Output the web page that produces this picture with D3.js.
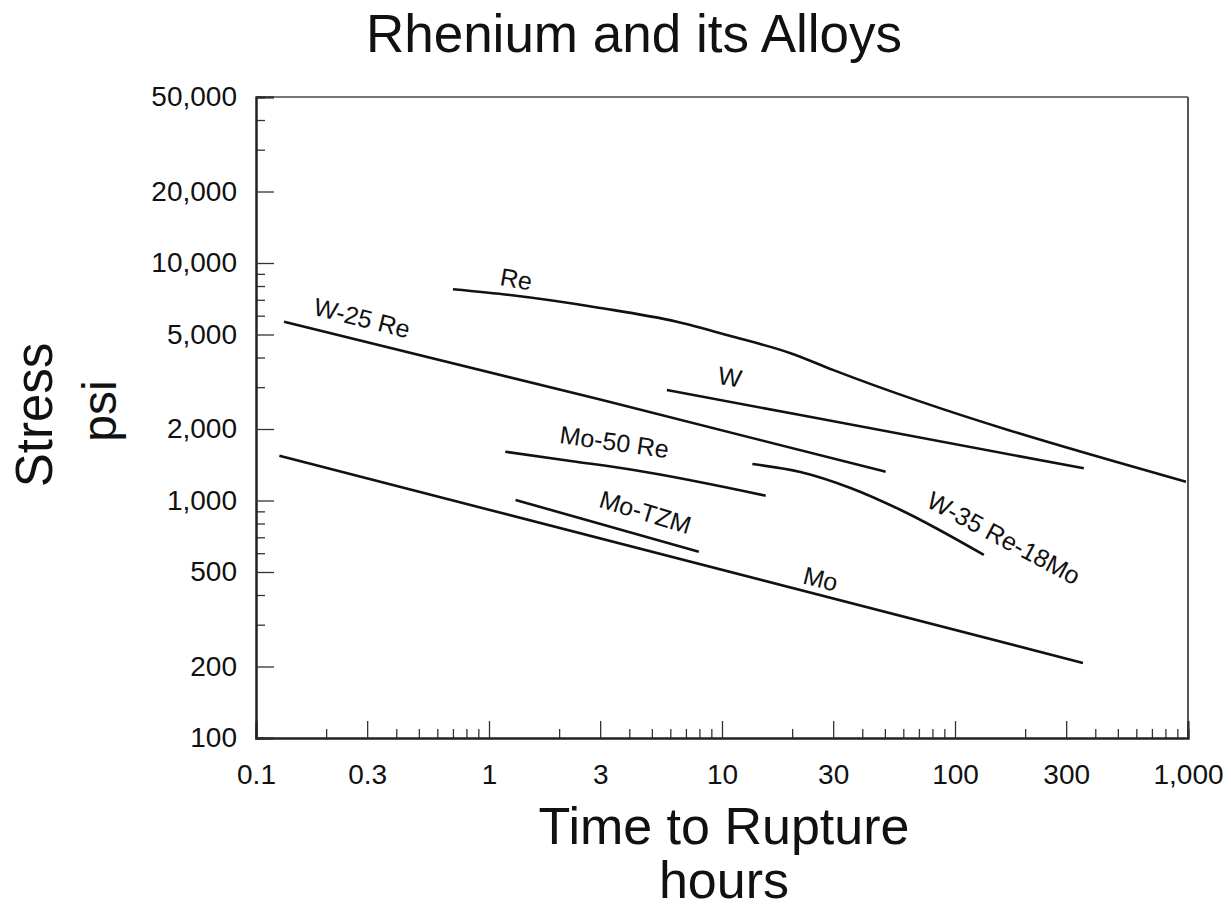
<!DOCTYPE html>
<html>
<head>
<meta charset="utf-8">
<script src="https://cdn.jsdelivr.net/npm/d3@7"></script>
<style>
  body { margin: 0; background: #fff; }
  text { font-family: "Liberation Sans", Arial, sans-serif; fill: #111; }
</style>
</head>
<body>
<svg width="1231" height="916"></svg>
<script>
// stress-rupture curves, [hours, psi]
var reData      = [[0.70, 7750], [1.23, 7330], [3.0, 6470], [6.4, 5660], [11.2, 4890], [19.7, 4170], [30.1, 3540], [980, 1200]];
var w25ReData   = [[0.132, 5660], [3.0, 2660], [50.4, 1322]];
var wData       = [[5.8, 2920], [21.7, 2290], [357, 1366]];
var mo50ReData  = [[1.175, 1605], [2.24, 1467], [4.18, 1344], [15.4, 1048]];
var w35ReData   = [[13.5, 1424], [21.7, 1318], [35.6, 1129], [58.5, 912], [133, 590]];
var moTzmData   = [[1.3, 1005], [7.95, 609]];
var moData      = [[0.126, 1544], [354, 207]];

var seriesNames = ["Re", "W-25 Re", "W", "Mo-50 Re", "W-35 Re-18Mo", "Mo-TZM", "Mo"];
var seriesData  = [reData, w25ReData, wData, mo50ReData, w35ReData, moTzmData, moData];

var xMajor = [0.1, 0.3, 1, 3, 10, 30, 100, 300, 1000];
var yMajor = [100, 200, 500, 1000, 2000, 5000, 10000, 20000, 50000];

var svg = d3.select("svg"),
    plotL = 256, plotR = 1188, plotT = 97, plotB = 738;

var x = d3.scaleLog().domain([0.1, 1000]).range([plotL, plotR]),
    y = d3.scaleLog().domain([100, 50000]).range([plotB, plotT]);

// minor ticks: every integer multiple inside each decade
var xMinor = x.ticks().filter(function (v) { return xMajor.indexOf(+v.toPrecision(3)) < 0; });
var yMinor = y.ticks().filter(function (v) { return yMajor.indexOf(+v.toPrecision(3)) < 0; });

var fmtX = function (d) { return d >= 1000 ? d3.format(",")(d) : String(d); };

// title and axis titles
svg.append("text").attr("x", 634).attr("y", 52).attr("text-anchor", "middle")
    .style("font-size", "53px").text("Rhenium and its Alloys");
svg.append("text").attr("x", 724).attr("y", 844).attr("text-anchor", "middle")
    .style("font-size", "52px").text("Time to Rupture");
svg.append("text").attr("x", 724).attr("y", 898).attr("text-anchor", "middle")
    .style("font-size", "52px").text("hours");
svg.append("text").attr("transform", "translate(52,415) rotate(-90)").attr("text-anchor", "middle")
    .style("font-size", "51px").text("Stress");
svg.append("text").attr("transform", "translate(116,411) rotate(-90)").attr("text-anchor", "middle")
    .style("font-size", "48px").text("psi");

// frame
svg.append("line").attr("x1", plotL).attr("x2", plotR).attr("y1", plotT).attr("y2", plotT)
    .attr("stroke", "#777").attr("stroke-width", 2);
svg.append("line").attr("x1", plotR).attr("x2", plotR).attr("y1", plotT).attr("y2", plotB)
    .attr("stroke", "#555").attr("stroke-width", 2);

// axes: ticks point inward, minor and major in separate groups
svg.append("g").attr("transform", "translate(0," + plotB + ")")
    .call(d3.axisBottom(x).tickValues(xMinor).tickSize(-9).tickFormat(""));
svg.append("g").attr("transform", "translate(0," + plotB + ")")
    .call(d3.axisBottom(x).tickValues(xMajor).tickSize(-17).tickPadding(26).tickFormat(fmtX));

svg.append("g").attr("transform", "translate(" + plotL + ",0)")
    .call(d3.axisLeft(y).tickValues(yMinor).tickSize(-9).tickFormat(""));
svg.append("g").attr("transform", "translate(" + plotL + ",0)")
    .call(d3.axisLeft(y).tickValues(yMajor).tickSize(-18).tickPadding(19).tickFormat(d3.format(",")));

svg.selectAll(".domain").attr("stroke", "#222").attr("stroke-width", 2);
svg.selectAll(".tick line").attr("stroke", "#333").attr("stroke-width", 1.3);
svg.selectAll(".tick text").style("font-size", "28px")
    .style("font-family", "'Liberation Sans', Arial, sans-serif").attr("fill", "#111");

// curves
var line = d3.line()
    .curve(d3.curveMonotoneX)
    .x(function (d) { return x(d[0]); })
    .y(function (d) { return y(d[1]); });

svg.selectAll(".curve")
    .data(seriesData)
    .enter().append("path")
    .attr("class", "curve")
    .attr("d", line)
    .attr("fill", "none")
    .attr("stroke", "#111")
    .attr("stroke-width", 2.6);

// curve labels: anchor in data units, angle in degrees
var labelAt = [
    { name: "Re", t: 1.31, s: 8560, a: 10 },
    { name: "W-25 Re", t: 0.285, s: 5870, a: 14 },
    { name: "W", t: 10.8, s: 3310, a: 10 },
    { name: "Mo-50 Re", t: 3.45, s: 1764, a: 8 },
    { name: "W-35 Re-18Mo", t: 162, s: 695, a: 28 },
    { name: "Mo-TZM", t: 4.69, s: 894, a: 17 },
    { name: "Mo", t: 26.5, s: 467, a: 14 }
];

svg.selectAll(".lbl")
    .data(labelAt)
    .enter().append("text")
    .attr("class", "lbl")
    .attr("transform", function (d) {
        return "translate(" + x(d.t) + "," + y(d.s) + ") rotate(" + d.a + ")";
    })
    .attr("text-anchor", "middle")
    .attr("dy", "0.35em")
    .style("font-size", "25px")
    .text(function (d) { return d.name; });
</script>
</body>
</html>
